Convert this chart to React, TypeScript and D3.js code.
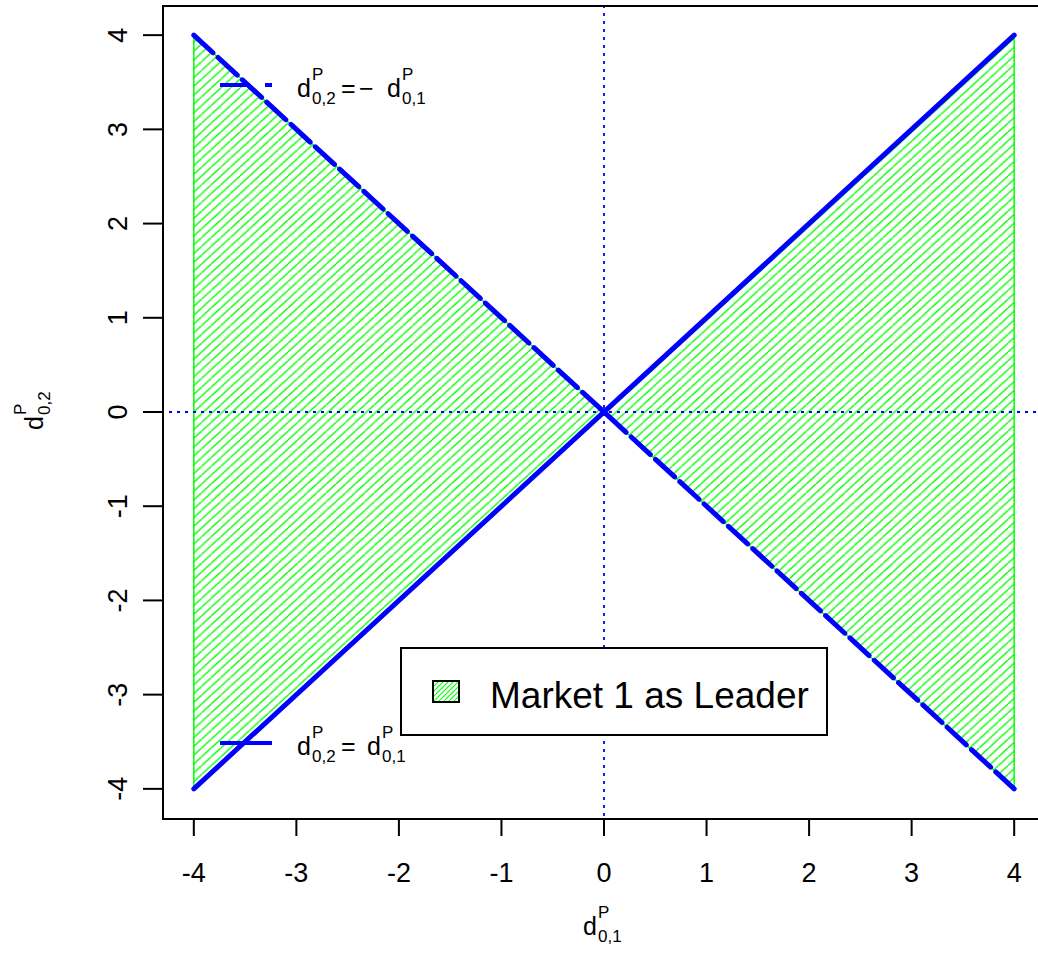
import React from 'react'
import { scaleLinear, line } from 'd3'

// axis ticks (both axes)
const ticks = [-4, -3, -2, -1, 0, 1, 2, 3, 4]
const domain = [-4.32, 4.32]

// shaded region "Market 1 as Leader": two triangles
const leftRegion = [[-4, 4], [-4, -4], [0, 0]]
const rightRegion = [[4, 4], [4, -4], [0, 0]]

// boundary lines
const lineEqual = [[-4, -4], [4, 4]]      // d02 = d01
const lineOpposite = [[-4, 4], [4, -4]]   // d02 = -d01

const legendLabel = 'Market 1 as Leader'

const BLUE = '#0000ff'
const GREEN = '#00ff00'
const FONT = '"Liberation Sans", Arial, sans-serif'

const width = 1038
const height = 954

const x = scaleLinear().domain(domain).range([161, 1047])
const y = scaleLinear().domain(domain).range([819, 5])

const path = line<number[]>().x(d => x(d[0])).y(d => y(d[1]))

// d with stacked superscript P and a subscript
const DLabel = ({ sub, fs = 25, ss = 17 }: { sub: string; fs?: number; ss?: number }) => (
  <g fontFamily={FONT} fill="#000">
    <text x={0} y={0} fontSize={fs}>d</text>
    <text x={15} y={-17} fontSize={ss}>P</text>
    <text x={15} y={7} fontSize={ss}>{sub}</text>
  </g>
)

export default function App() {
  const hw = 9.6
  const hh = 8.8
  return (
    <svg width={width} height={height} style={{ position: 'absolute', left: 0, top: 0, background: '#fff' }}>
      <defs>
        <pattern id="hatch" patternUnits="userSpaceOnUse" width={hw} height={hh}>
          <path
            d={`M${-hw},${hh} L0,0 M0,${hh} L${hw},0 M${hw},${hh} L${2 * hw},0`}
            stroke={GREEN}
            strokeWidth={1.3}
          />
        </pattern>
        <pattern id="hatchSmall" patternUnits="userSpaceOnUse" width={5} height={5}>
          <path d="M-5,5 L0,0 M0,5 L5,0 M5,5 L10,0" stroke={GREEN} strokeWidth={1.2} />
        </pattern>
        <clipPath id="plotClip">
          <rect x={161} y={5} width={886} height={814} />
        </clipPath>
      </defs>

      {/* shaded regions */}
      {[leftRegion, rightRegion].map((r, i) => (
        <path key={i} d={path(r as number[][]) + 'Z'} fill="url(#hatch)" stroke={GREEN} strokeWidth={1.5} />
      ))}

      {/* reference lines at zero */}
      <g clipPath="url(#plotClip)">
        <line x1={x(0)} x2={x(0)} y1={y(domain[1])} y2={y(domain[0])} stroke={BLUE} strokeWidth={1.8} strokeDasharray="3 5" />
        <line x1={x(domain[0])} x2={x(domain[1])} y1={y(0)} y2={y(0)} stroke={BLUE} strokeWidth={1.8} strokeDasharray="3 5" />
      </g>

      {/* boundary lines */}
      <path d={path(lineEqual) ?? ''} fill="none" stroke={BLUE} strokeWidth={5} strokeLinecap="round" />
      <path d={path(lineOpposite) ?? ''} fill="none" stroke={BLUE} strokeWidth={5} strokeDasharray="26 7" strokeLinecap="round" />

      {/* plot box */}
      <rect x={163} y={6} width={900} height={813} fill="none" stroke="#000" strokeWidth={2} />

      {/* x axis */}
      <g fontFamily={FONT} fontSize={27} textAnchor="middle">
        {ticks.map(t => (
          <g key={t}>
            <line x1={x(t)} x2={x(t)} y1={819} y2={836} stroke="#000" strokeWidth={2} />
            <text x={x(t)} y={882}>{t}</text>
          </g>
        ))}
      </g>

      {/* y axis */}
      <g fontFamily={FONT} fontSize={27} textAnchor="middle">
        {ticks.map(t => (
          <g key={t}>
            <line x1={143} x2={163} y1={y(t)} y2={y(t)} stroke="#000" strokeWidth={2} />
            <text transform={`translate(127,${y(t)}) rotate(-90)`}>{t}</text>
          </g>
        ))}
      </g>

      {/* axis titles */}
      <g transform="translate(583,935)">
        <DLabel sub="0,1" />
      </g>
      <g transform="translate(43,430) rotate(-90)">
        <DLabel sub="0,2" />
      </g>

      {/* line legend (top) */}
      <line x1={220} x2={272} y1={85} y2={85} stroke={BLUE} strokeWidth={4} strokeDasharray="30 15" />
      <g transform="translate(297,97)">
        <DLabel sub="0,2" />
        <text x={44} y={0} fontFamily={FONT} fontSize={25}>=</text>
        <text x={62} y={0} fontFamily={FONT} fontSize={25}>−</text>
        <g transform="translate(90,0)">
          <DLabel sub="0,1" />
        </g>
      </g>

      {/* line legend (bottom) */}
      <line x1={220} x2={272} y1={743} y2={743} stroke={BLUE} strokeWidth={4} />
      <g transform="translate(297,755)">
        <DLabel sub="0,2" />
        <text x={44} y={0} fontFamily={FONT} fontSize={25}>=</text>
        <g transform="translate(70,0)">
          <DLabel sub="0,1" />
        </g>
      </g>

      {/* fill legend */}
      <rect x={401} y={648} width={426} height={87} fill="#fff" stroke="#000" strokeWidth={2} />
      <rect x={433} y={681} width={26} height={21} fill="url(#hatchSmall)" stroke="#000" strokeWidth={2} />
      <text x={490} y={708} fontFamily={FONT} fontSize={37}>{legendLabel}</text>
    </svg>
  )
}
